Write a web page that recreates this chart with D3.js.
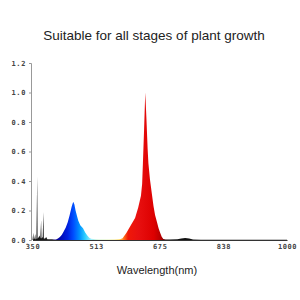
<!DOCTYPE html>
<html><head><meta charset="utf-8">
<script src="https://cdn.jsdelivr.net/npm/d3@7/dist/d3.min.js"></script>
<style>html,body{margin:0;padding:0;background:#fff;}svg{display:block;}</style>
</head><body>
<script>
// ---- data ----
const wavelengths = [350,352,353,355,357,358,360,362,363,366,368,370,372,373,376,378,379,382,385,388,395,400,
  405,410,415,420,425,430,435,440,445,450,454,457,460,464,467,472,479,485,490,495,500,510,520,540,560,570,575,
  580,590,600,612,620,627,630,632,635,638,641,644,646,650,655,659,663,668,672,676,680,684,690,700,720,730,740,750,760,780,850,1000];
const intensity = [0,0.05,0.004,0.01,0.04,0.004,0.01,0.43,0.008,0.02,0.03,0.01,0.135,0.01,0.02,0.19,0.01,0.01,0.02,0.005,0.005,0.005,
  0.004,0.004,0.01,0.02,0.035,0.06,0.085,0.12,0.17,0.225,0.26,0.24,0.2,0.16,0.13,0.1,0.08,0.05,0.03,0.015,0.008,0.005,0.004,0.004,0.004,0.005,0.006,
  0.012,0.05,0.095,0.15,0.22,0.3,0.38,0.52,0.75,1.0,0.82,0.62,0.52,0.41,0.31,0.23,0.17,0.12,0.08,0.05,0.022,0.006,0.003,0.003,0.005,0.01,0.013,0.01,0.004,0.002,0.002,0.002];
const yTicks = [0,0.2,0.4,0.6,0.8,1.0,1.2];
const xTickValues = [350,512.5,675,837.5,1000];
const xTickLabels = ["350","513","675","838","1000"];
const colorStops = [
  [350,"#111"],[400,"#222"],[406,"#100080"],[420,"#0008b0"],[440,"#0020e0"],[455,"#0050ff"],[470,"#0090ff"],
  [485,"#30d0ff"],[500,"#a0f0ff"],[515,"#c8f0d0"],[545,"#e0f0b0"],[572,"#ffd860"],[583,"#ff7018"],[594,"#f01808"],
  [620,"#e81010"],[660,"#dd0000"],[680,"#b00000"],[690,"#300000"],[700,"#111"],[1000,"#111"]];
const title = "Suitable for all stages of plant growth";
const xTitle = "Wavelength(nm)";

// ---- chart ----
const W = 300, H = 300;
const x = d3.scaleLinear().domain([350,1000]).range([32.5,287]);
const y = d3.scaleLinear().domain([0,1.2]).range([240,63]);
const svg = d3.select("body").append("svg").attr("width",W).attr("height",H);

const defs = svg.append("defs");
const grad = defs.append("linearGradient").attr("id","spec")
  .attr("gradientUnits","userSpaceOnUse")
  .attr("x1",x(350)).attr("x2",x(1000)).attr("y1",0).attr("y2",0);
colorStops.forEach(s => grad.append("stop")
  .attr("offset",((s[0]-350)/650))
  .attr("stop-color",s[1]));

svg.append("text").attr("x",154).attr("y",40).attr("text-anchor","middle")
  .attr("font-family","Liberation Sans, Arial, sans-serif").attr("font-size",13.5)
  .attr("fill","#222").text(title);

const data = wavelengths.map((w,i)=>({w, v:intensity[i]}));
const area = d3.area().x(d=>x(d.w)).y0(y(0)).y1(d=>y(d.v));
svg.append("path").datum(data).attr("d",area).attr("fill","url(#spec)");

// y axis
const ya = svg.append("g").attr("transform",`translate(${31},0)`)
  .call(d3.axisLeft(y).tickValues(yTicks).tickFormat(d3.format(".1f")).tickSize(2).tickPadding(3));
ya.select(".domain").attr("stroke","#999");
ya.selectAll(".tick line").attr("stroke","#999");
ya.selectAll("text").attr("font-family","DejaVu Sans Mono, monospace").attr("font-size",7)
  .attr("font-weight","bold").attr("letter-spacing",0.6).attr("fill","#444");

// x axis
const xa = svg.append("g").attr("transform",`translate(0,${240})`)
  .call(d3.axisBottom(x).tickValues(xTickValues).tickFormat((d,i)=>xTickLabels[i]).tickSize(0).tickPadding(4).tickSizeOuter(0));
xa.select(".domain").attr("stroke","#333").attr("stroke-width",1.2);
xa.selectAll("text").attr("font-family","DejaVu Sans Mono, monospace").attr("font-size",7)
  .attr("font-weight","bold").attr("letter-spacing",0.6).attr("fill","#444");

svg.append("text").attr("x",157).attr("y",274).attr("text-anchor","middle")
  .attr("font-family","Liberation Sans, Arial, sans-serif").attr("font-size",11)
  .attr("fill","#222").text(xTitle);
</script>
</body></html>
